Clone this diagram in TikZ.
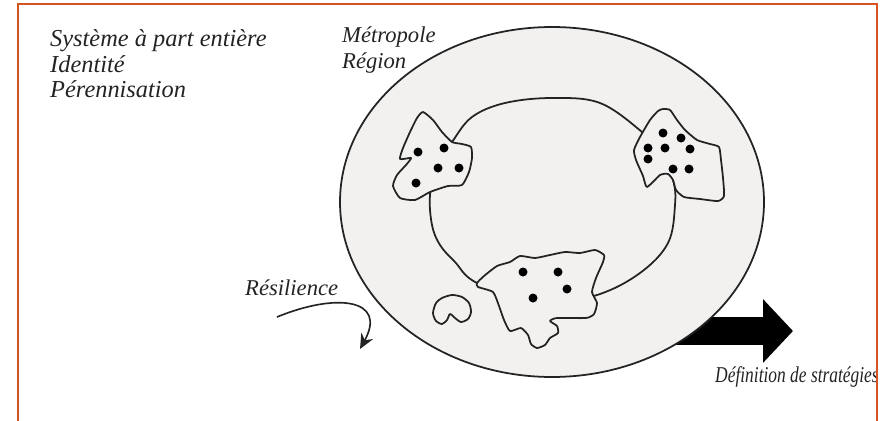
\documentclass[tikz,border=0pt]{standalone}
\usepackage{fontspec}
\setmainfont{Liberation Serif}
\usepackage{xcolor}
\usetikzlibrary{arrows.meta}
\definecolor{cadre}{RGB}{214,84,34}
\definecolor{fond}{RGB}{242,241,240}
\definecolor{encre}{RGB}{35,35,35}

\begin{document}
\begin{tikzpicture}[x=0.03cm,y=-0.03cm,
  contour/.style={draw=encre, line width=1.5pt},
  tache/.style={contour, fill=fond, line join=round},
  texte/.style={font=\fontsize{19.3}{23}\selectfont\itshape, text=encre, anchor=base west, inner sep=0pt},
  grand texte/.style={texte, font=\fontsize{20.8}{25}\selectfont\itshape}]
	\useasboundingbox (0,0) rectangle (880,420);
	
	% Fleche de strategie (sous le territoire)
	\coordinate (fleche depart) at (660,331);
	\coordinate (fleche pointe) at (793,331);
	\draw[line width=0.84cm, -{Triangle[length=0.9cm, width=1.86cm]}] (fleche depart) -- (fleche pointe);
	
	% Territoire
	\draw[contour, fill=fond] (552,202) ellipse [x radius=212, y radius=175];
	\draw[contour] plot[smooth cycle, tension=0.6] coordinates {(452,142) (472,117) (505,103) (552,98) (600,103) (642,132) (660,152) (673,180) (675,205) (668,243) (640,273) (597,295) (540,305) (477,283) (455,262) (440,245) (432,225) (430,195) (437,165)};
	
	% Taches
	\draw[tache] plot[smooth cycle, tension=0.35] coordinates {(423,112) (433,120) (442,132) (452,142) (462,144) (471,147) (472,158) (469,172) (462,185) (448,186) (430,192) (415,200) (400,198) (393,186) (397,175) (406,165) (411,158) (400,159) (403,148) (410,132) (417,118)};
	\draw[tache] plot[smooth cycle, tension=0.35] coordinates {(663,109) (670,110) (677,120) (685,130) (697,140) (710,144) (719,147) (721,160) (723,178) (724,196) (718,201) (700,199) (684,197) (676,190) (673,180) (668,174) (660,175) (647,187) (643,176) (636,160) (634,150) (640,137) (650,120) (658,111)};
	\draw[tache] plot[smooth cycle, tension=0.35] coordinates {(477,283) (484,276) (497,266) (510,262) (520,256) (535,258) (550,255) (565,252) (580,253) (595,250) (604,255) (603,262) (596,278) (592,292) (597,303) (594,314) (586,318) (557,318) (550,321) (557,326) (558,333) (550,338) (545,345) (537,348) (531,344) (528,335) (521,328) (510,331) (504,320) (499,306) (493,292) (478,287)};
	\draw[tache] plot[smooth cycle, tension=0.45] coordinates {(433,313) (436,303) (442,298) (452,295) (462,297) (469,303) (471,312) (468,319) (461,322) (455,318) (450,314) (447,320) (442,324) (436,321)};
	
	% Points
	\foreach \x/\y in {418/152, 444/148, 438/168, 459/168, 416/183,
	  663/133, 681/138, 648/148, 665/148, 690/149, 648/159, 673/169, 689/169,
	  523/272, 558/272, 567/289, 533/298}
	  \fill[black] (\x,\y) circle (1.35mm);
	
	% Resilience
	\coordinate (res depart) at (277,317);
	\coordinate (res arrivee) at (360,349);
	\draw[encre, line width=1.4pt, -{Stealth[length=4.5mm, width=4mm, inset=1.5mm]}] (res depart) .. controls (335,293) and (388,298) .. (res arrivee);
	
	% Textes
	\node[grand texte] (systeme) at (50,46) {Système à part entière};
	\node[grand texte] (identite) at (50,72) {Identité};
	\node[grand texte] (perennisation) at (50,97) {Pérennisation};
	\node[texte] (metropole) at (342,42) {Métropole};
	\node[texte] (region) at (342,68) {Région};
	\node[texte] (resilience) at (245,295) {Résilience};
	\node[texte] (strategies) at (715,382) {\scalebox{0.77}[1]{Définition de stratégies}};
	
	% Cadre
	\draw[cadre, line width=2.2pt] (18,425) -- (18,4) -- (877,4) -- (877,425);
\end{tikzpicture}
\end{document}
